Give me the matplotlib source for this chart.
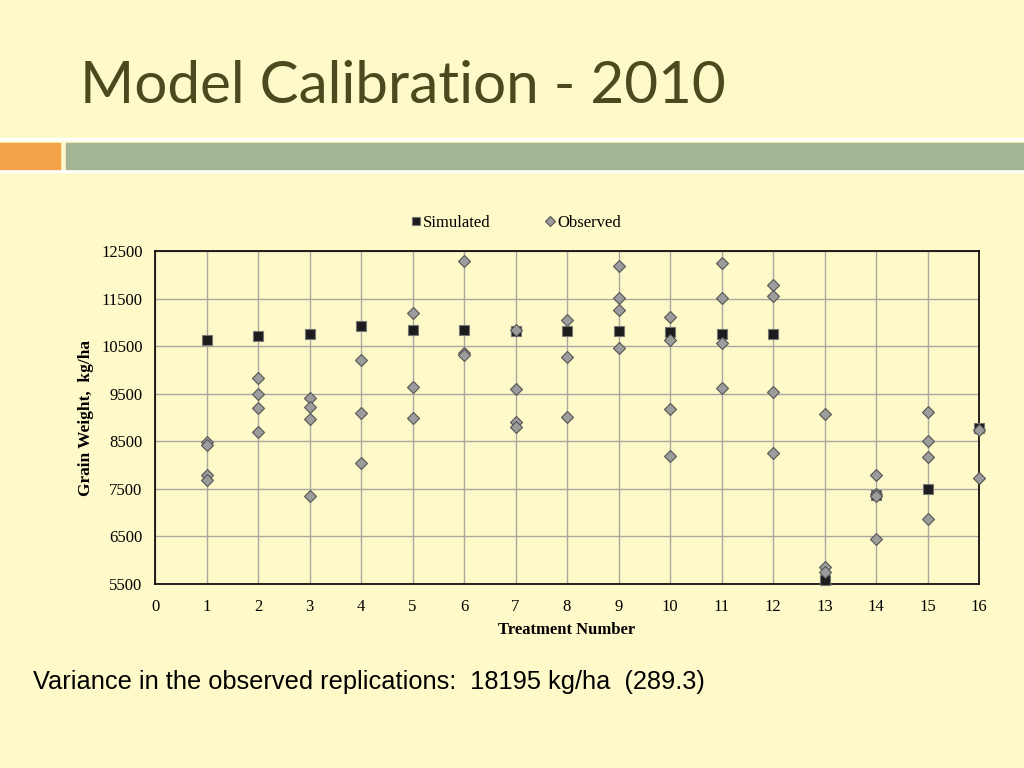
import numpy as np
import matplotlib.pyplot as plt
from matplotlib.patches import Rectangle

# Simulated grain weight per treatment
treatments = list(range(1, 17))
simulated = [10630, 10710, 10750, 10930, 10840, 10845, 10825, 10825,
             10810, 10805, 10755, 10750, 5585, 7365, 7490, 8770]

# Observed replications (treatment, value)
obs_treatment = [1, 1, 1, 1,
                 2, 2, 2, 2,
                 3, 3, 3, 3,
                 4, 4, 4,
                 5, 5, 5,
                 6, 6, 6,
                 7, 7, 7, 7,
                 8, 8, 8,
                 9, 9, 9, 9,
                 10, 10, 10, 10,
                 11, 11, 11, 11,
                 12, 12, 12, 12,
                 13, 13, 13,
                 14, 14, 14, 14,
                 15, 15, 15, 15,
                 16, 16]
obs_value = [8490, 8420, 7800, 7690,
             9825, 9495, 9200, 8695,
             9420, 9230, 8965, 7350,
             10200, 9095, 8040,
             11190, 9645, 8980,
             12280, 10365, 10320,
             10845, 9595, 8905, 8790,
             11050, 10275, 9015,
             12195, 11515, 11270, 10465,
             11115, 10635, 9185, 8200,
             12255, 11515, 10560, 9620,
             11790, 11545, 9530, 8255,
             9080, 5850, 5760,
             7800, 7385, 7340, 6450,
             9120, 8505, 8165, 6865,
             8735, 7730]

bg = "#FEF9C8"
fig = plt.figure(figsize=(10.24, 7.68), dpi=100, facecolor=bg)

# header banner
fig.patches.append(Rectangle((0, 1 - 140/768), 1, 2/768, transform=fig.transFigure,
                             color="white", zorder=0))
fig.patches.append(Rectangle((0, 1 - 172/768), 1, 2/768, transform=fig.transFigure,
                             color="white", zorder=0))
fig.patches.append(Rectangle((0, 1 - 168.5/768), 60/1024, 25.5/768, transform=fig.transFigure,
                             color="#F4A24A", zorder=0))
fig.patches.append(Rectangle((66/1024, 1 - 168.5/768), 1, 25.5/768, transform=fig.transFigure,
                             color="#A3B592", zorder=0))

fig.text(80/1024, 1 - 103/768, "Model Calibration - 2010", fontsize=42,
         family="Lato", color="#4A4A1E", ha="left", va="baseline")

ax = fig.add_axes([155/1024, 1 - 584/768, 824/1024, 333/768])
ax.set_facecolor(bg)

ax.plot(treatments, simulated, linestyle="none", marker="s", markersize=7.5,
        markerfacecolor="#1C1C1C", markeredgecolor="#777777", markeredgewidth=0.8,
        label="Simulated", zorder=3, clip_on=False)
ax.plot(obs_treatment, obs_value, linestyle="none", marker="D", markersize=6,
        markerfacecolor="#9C9C9C", markeredgecolor="#555555", markeredgewidth=0.8,
        label="Observed", zorder=4, clip_on=False)

ax.set_xlim(0, 16)
ax.set_ylim(5500, 12500)
ax.set_xticks(range(0, 17))
ax.set_yticks(range(5500, 12501, 1000))
ax.grid(True, color="#A8A8A0", linewidth=1)
ax.set_axisbelow(True)
for s in ax.spines.values():
    s.set_color("black")
    s.set_linewidth(1.2)
ax.tick_params(length=0, labelsize=12)
ax.tick_params(axis="x", pad=11)
ax.tick_params(axis="y", pad=9)
for lab in ax.get_xticklabels() + ax.get_yticklabels():
    lab.set_family("Liberation Serif")

ax.set_xlabel("Treatment Number", family="Liberation Serif", fontweight="bold",
              fontsize=12, labelpad=5)
ax.set_ylabel("Grain Weight,  kg/ha", family="Liberation Serif", fontweight="bold",
              fontsize=12.5, labelpad=5)

fig.legend(loc="center", bbox_to_anchor=(516/1024, 1 - 223/768), ncol=2,
           frameon=False, prop={"family": "Liberation Serif", "size": 12},
           handlelength=0.6, handletextpad=0.1, columnspacing=3.3,
           markerscale=0.8)

fig.text(33/1024, 1 - 682/768,
         "Variance in the observed replications:  18195 kg/ha  (289.3)",
         family="Liberation Sans", fontsize=18.3, color="black", va="center", ha="left")

fig.savefig("out.png", dpi=100, facecolor=bg)
